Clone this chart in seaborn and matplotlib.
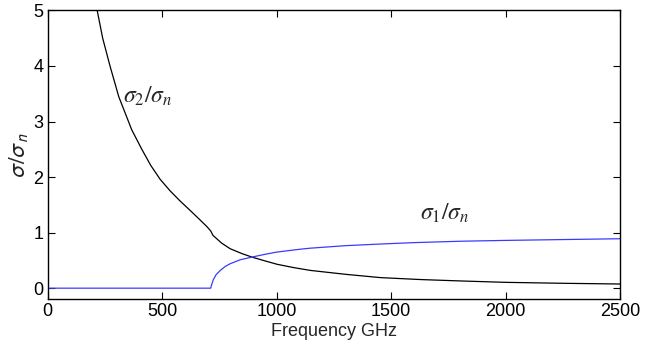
import pandas as pd
import matplotlib
matplotlib.use("Agg")
import matplotlib.pyplot as plt
import seaborn as sns

# values
freq_s2 = [216, 240, 272, 310, 367, 411, 450, 491, 535, 578, 622, 660, 695, 712,
           722, 760, 797, 850, 892, 950, 1002, 1075, 1147, 1300, 1454, 1630, 1804,
           2000, 2250, 2500]
sigma2 = [5.0, 4.5, 4.0, 3.45, 2.85, 2.50, 2.21, 1.96, 1.75, 1.57, 1.40, 1.25, 1.11,
          1.03, 0.95, 0.81, 0.71, 0.62, 0.56, 0.49, 0.43, 0.37, 0.32, 0.25, 0.19,
          0.155, 0.13, 0.105, 0.088, 0.075]

freq_s1 = [0, 712, 715, 723, 735, 754, 775, 797, 840, 892, 950, 1001, 1100, 1147,
           1300, 1454, 1600, 1804, 2000, 2250, 2500]
sigma1 = [0, 0, 0.05, 0.15, 0.24, 0.32, 0.39, 0.44, 0.51, 0.56, 0.61, 0.65, 0.70,
          0.72, 0.765, 0.795, 0.82, 0.845, 0.86, 0.875, 0.89]

xticks = [0, 500, 1000, 1500, 2000, 2500]
yticks = [0, 1, 2, 3, 4, 5]

sns.set_style("ticks")
plt.rcParams["font.family"] = ["Liberation Sans", "DejaVu Sans"]
plt.rcParams["mathtext.fontset"] = "stix"

df2 = pd.DataFrame({"f": freq_s2, "s": sigma2})
df1 = pd.DataFrame({"f": freq_s1, "s": sigma1})

fig = plt.figure(figsize=(6.54, 3.47), dpi=100)
ax = fig.add_axes([0.073, 0.1375, 0.875, 0.8325])

sns.lineplot(data=df2, x="f", y="s", ax=ax, color="black", lw=0.9,
             estimator=None, sort=False)
sns.lineplot(data=df1, x="f", y="s", ax=ax, color="#3a3aff", lw=0.9,
             estimator=None, sort=False)

ax.set_xlim(0, 2500)
ax.set_ylim(-0.2, 5)
ax.set_xticks(xticks)
ax.set_yticks(yticks)
ax.tick_params(direction="in", length=5, width=0.8, top=True, right=True,
               labelsize=13, pad=3, colors="black")
for s in ax.spines.values():
    s.set_visible(True)
    s.set_linewidth(1.0)
    s.set_color("black")

ax.set_xlabel("Frequency GHz", fontsize=13, labelpad=2)
ax.set_ylabel(r"$\sigma/\sigma_n$", fontsize=17, labelpad=2,
              math_fontfamily="stixsans")

ax.text(329, 3.46, r"$\sigma_2/\sigma_n$", fontsize=17, va="center", ha="left")
ax.text(1628, 1.35, r"$\sigma_1/\sigma_n$", fontsize=17, va="center", ha="left")

fig.savefig("out.png", dpi=100)
